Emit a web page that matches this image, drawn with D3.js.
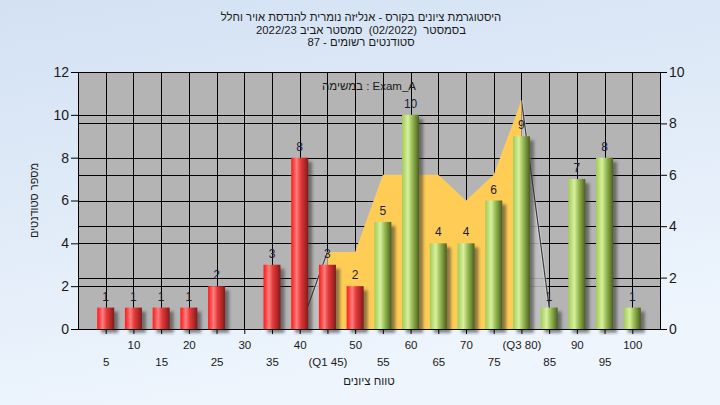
<!DOCTYPE html>
<html>
<head>
<meta charset="utf-8">
<script src="https://cdn.jsdelivr.net/npm/d3@7/dist/d3.min.js"></script>
<style>
  html, body { margin: 0; padding: 0; }
  body { width: 720px; height: 405px; overflow: hidden; }
  svg { display: block; font-family: "Liberation Sans", Arial, sans-serif; }
  .pre { white-space: pre; }
</style>
</head>
<body>
<svg id="chart" width="720" height="405"></svg>
<script>
// ---------- data ----------
const categories = ["5","10","15","20","25","30","35","40","45","50","55","60","65","70","75","80","85","90","95","100"];
const tickLabels = ["5","10","15","20","25","30","35","40","(Q1 45)","50","55","60","65","70","75","(Q3 80)","85","90","95","100"];
const counts = [1,1,1,1,2,0,3,8,3,2,5,10,4,4,6,9,1,7,8,1];
const areaCategories = ["40","45","50","55","60","65","70","75","80","85"];
const areaValues = [0,3,3,6,6,6,5,6,8.9,0.85];
const q1Category = "45";
const q3Category = "80";
const passCategory = 55;
const leftTicks = [0,2,4,6,8,10,12];
const rightTicks = [0,2,4,6,8,10];
const titleLines = [
  "היסטוגרמת ציונים בקורס - אנליזה נומרית להנדסת אויר וחלל",
  "בסמסטר  (02/2022)  סמסטר אביב 2022/23",
  "סטודנטים רשומים - 87"
];
const legendText = "במשימה : Exam_A";
const xTitle = "טווח ציונים";
const yTitle = "מספר סטודנטים";

// ---------- layout ----------
const W = 720, H = 405;
const plot = { left: 78, right: 660, top: 72, bottom: 329 };

const svg = d3.select("#chart");
const defs = svg.append("defs");

const bg = defs.append("linearGradient").attr("id","bgGrad")
  .attr("x1",0).attr("y1",0).attr("x2",0.3).attr("y2",1);
bg.append("stop").attr("offset",0).attr("stop-color","#d3e1f3");
bg.append("stop").attr("offset",1).attr("stop-color","#eef5fd");

function barGrad(id, stops) {
  const g = defs.append("linearGradient").attr("id", id)
    .attr("x1",0).attr("y1",0).attr("x2",1).attr("y2",0);
  stops.forEach(s => g.append("stop").attr("offset", s[0]).attr("stop-color", s[1]));
}
barGrad("redGrad", [[0,"#ff1c1c"],[0.12,"#ff3a3a"],[0.32,"#ff8080"],[0.55,"#e63a3a"],[0.8,"#b22828"],[1,"#7e1a1a"]]);
barGrad("greenGrad", [[0,"#a2cc58"],[0.12,"#b4d86c"],[0.35,"#d8f0a0"],[0.58,"#9cc05a"],[0.82,"#6e8a34"],[1,"#4a5e20"]]);

const blur = defs.append("filter").attr("id","shadowBlur")
  .attr("x","-50%").attr("y","-50%").attr("width","200%").attr("height","200%");
blur.append("feGaussianBlur").attr("stdDeviation", 1.6);

svg.append("rect").attr("x",0).attr("y",0).attr("width",W).attr("height",H).attr("fill","url(#bgGrad)");

// scales
const x = d3.scalePoint().domain(categories).range([plot.left, plot.right]).padding(1);
const yL = d3.scaleLinear().domain([0,12]).range([plot.bottom, plot.top]);
const yR = d3.scaleLinear().domain([0,10]).range([plot.bottom, plot.top]);

svg.append("rect")
  .attr("x", plot.left).attr("y", plot.top)
  .attr("width", plot.right - plot.left).attr("height", plot.bottom - plot.top)
  .attr("fill", "#b4b4b4");

// gridlines
const grid = svg.append("g").attr("stroke","#000").attr("stroke-width",1).attr("shape-rendering","crispEdges");
leftTicks.forEach(t => grid.append("line")
  .attr("x1", plot.left).attr("x2", plot.right).attr("y1", Math.round(yL(t))+0.5).attr("y2", Math.round(yL(t))+0.5));
rightTicks.forEach(t => grid.append("line")
  .attr("x1", plot.left).attr("x2", plot.right).attr("y1", Math.round(yR(t))+0.5).attr("y2", Math.round(yR(t))+0.5));
categories.forEach(c => grid.append("line")
  .attr("x1", Math.round(x(c))+0.5).attr("x2", Math.round(x(c))+0.5).attr("y1", plot.top).attr("y2", plot.bottom));

// area series (right axis)
const areaData = areaCategories.map((c,i) => ({c, v: areaValues[i]}));
const area = d3.area().x(d => x(d.c)).y0(yR(0)).y1(d => yR(d.v));
const line = d3.line().x(d => x(d.c)).y(d => yR(d.v));
const iQ1 = areaCategories.indexOf(q1Category), iQ3 = areaCategories.indexOf(q3Category);
const leftPart = areaData.slice(0, iQ1 + 1);
const midPart = areaData.slice(iQ1, iQ3 + 1);
const rightPart = areaData.slice(iQ3);
[leftPart, rightPart].forEach(part => {
  svg.append("path").attr("d", area(part)).attr("fill", "#c2c2c2").attr("opacity", 0.85);
  svg.append("path").attr("d", line(part)).attr("fill","none").attr("stroke","#ffffff").attr("stroke-opacity",0.35).attr("stroke-width",3);
  svg.append("path").attr("d", line(part)).attr("fill","none").attr("stroke","#3c3c3c").attr("stroke-width",1.2);
});
svg.append("path").attr("d", area(midPart)).attr("fill", "#ffcc55");

// bars
const barW = 17;
const barData = categories.map((c,i) => ({c, v: counts[i]})).filter(d => d.v > 0);
const bars = svg.append("g");
bars.selectAll("rect.shadow").data(barData).join("rect")
  .attr("class","shadow")
  .attr("x", d => x(d.c) - barW/2 + 4)
  .attr("y", d => yL(d.v) + 4)
  .attr("width", barW)
  .attr("height", d => yL(0) - yL(d.v))
  .attr("fill", "#303030").attr("opacity", 0.55)
  .attr("filter", "url(#shadowBlur)");
bars.selectAll("rect.bar").data(barData).join("rect")
  .attr("class","bar")
  .attr("x", d => x(d.c) - barW/2)
  .attr("y", d => yL(d.v))
  .attr("width", barW)
  .attr("height", d => yL(0) - yL(d.v))
  .attr("fill", d => (+d.c >= passCategory) ? "url(#greenGrad)" : "url(#redGrad)");

svg.append("g").selectAll("text").data(barData).join("text")
  .attr("x", d => x(d.c))
  .attr("y", d => yL(d.v) - 7)
  .attr("text-anchor","middle")
  .attr("font-size", 12)
  .attr("fill", "#1c1c38")
  .text(d => d.v);

svg.append("rect")
  .attr("x", plot.left + 0.5).attr("y", plot.top + 0.5)
  .attr("width", plot.right - plot.left).attr("height", plot.bottom - plot.top)
  .attr("fill","none").attr("stroke","#000").attr("shape-rendering","crispEdges");

// axes
const gL = svg.append("g").attr("transform", `translate(${plot.left},0)`)
  .call(d3.axisLeft(yL).tickValues(leftTicks).tickSize(7).tickSizeOuter(0).tickPadding(2));
const gR = svg.append("g").attr("transform", `translate(${plot.right},0)`)
  .call(d3.axisRight(yR).tickValues(rightTicks).tickSize(7).tickSizeOuter(0).tickPadding(2));
[gL, gR].forEach(g => {
  g.selectAll("text").attr("font-size", 14).attr("fill","#1a1a1a").attr("font-family","Liberation Sans, Arial, sans-serif");
  g.selectAll("line,path").attr("stroke","#000");
});

const gX = svg.append("g").attr("transform", `translate(0,${plot.bottom})`)
  .call(d3.axisBottom(x).tickSize(5).tickSizeOuter(0).tickFormat((d,i) => tickLabels[i]));
gX.select(".domain").remove();
gX.selectAll("line").attr("stroke","#000");
gX.selectAll("text")
  .attr("font-size", 11.5).attr("fill","#1a1a1a").attr("font-family","Liberation Sans, Arial, sans-serif")
  .attr("dy", 0)
  .attr("y", (d,i) => i % 2 === 1 ? 19.5 : 36.5);
svg.append("line").attr("x1", plot.left).attr("x2", plot.right + 7)
  .attr("y1", plot.bottom + 0.5).attr("y2", plot.bottom + 0.5)
  .attr("stroke","#000").attr("shape-rendering","crispEdges");

// titles
const tt = svg.append("g").attr("font-size", 11.3).attr("fill","#1a1a1a").attr("text-anchor","middle");
titleLines.forEach((t,i) => tt.append("text").attr("class","pre").attr("x", 361).attr("y", 21 + i*12.6).text(t));

svg.append("text").attr("x", (plot.left + plot.right)/2).attr("y", 90)
  .attr("text-anchor","middle").attr("font-size", 11.5).attr("fill","#1a1a1a").text(legendText);

svg.append("text").attr("x", (plot.left + plot.right)/2).attr("y", 385)
  .attr("text-anchor","middle").attr("font-size", 11.5).attr("fill","#1a1a1a").text(xTitle);

svg.append("text").attr("transform", `translate(38,${(plot.top+plot.bottom)/2}) rotate(-90)`)
  .attr("text-anchor","middle").attr("font-size", 11).attr("fill","#1a1a1a").text(yTitle);
</script>
</body>
</html>
